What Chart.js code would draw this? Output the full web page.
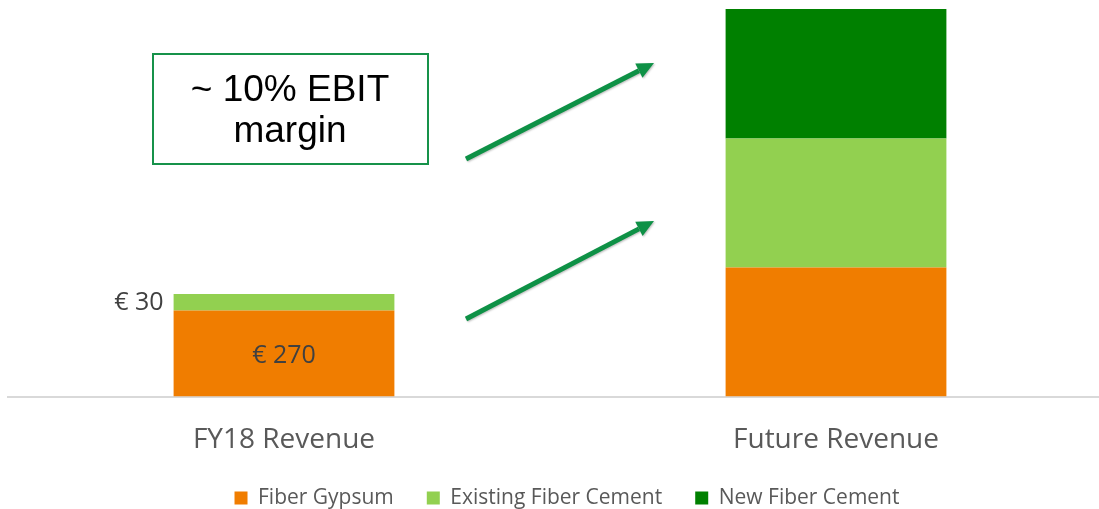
<!DOCTYPE html>
<html>
<head>
<meta charset="utf-8">
<script src="https://cdn.jsdelivr.net/npm/chart.js@4/dist/chart.umd.min.js"></script>
<style>
  html, body { margin: 0; padding: 0; background: #ffffff; overflow: hidden; width: 1099px; height: 509px; }
  #wrap { width: 1126px; height: 509px; }
</style>
</head>
<body>
<div id="wrap"><canvas id="c" width="1126" height="509"></canvas></div>
<script>
// ---- data ----
const categories = ['FY18 Revenue', 'Future Revenue'];
const fiberGypsum = [270, 405];
const existingFiberCement = [52, 405];
const newFiberCement = [0, 407];
const gypsumLabels = ['€ 270', ''];
const existingLabels = ['€ 30', ''];
const seriesNames = ['Fiber Gypsum', 'Existing Fiber Cement', 'New Fiber Cement'];
const annotationLines = ['~ 10% EBIT', 'margin'];

const COLORS = ['#F07D00', '#92D050', '#008000'];

const labelPlugin = {
  id: 'valueLabels',
  afterDatasetsDraw(chart) {
    const ctx = chart.ctx;
    ctx.save();
    ctx.font = '25px "Open Sans"';
    ctx.fillStyle = '#404040';
    ctx.textBaseline = 'middle';
    const m0 = chart.getDatasetMeta(0);
    m0.data.forEach((el, i) => {
      if (!gypsumLabels[i]) return;
      ctx.textAlign = 'center';
      ctx.fillText(gypsumLabels[i], el.x, (el.y + el.base) / 2 + 2);
    });
    const m1 = chart.getDatasetMeta(1);
    m1.data.forEach((el, i) => {
      if (!existingLabels[i]) return;
      ctx.textAlign = 'right';
      ctx.fillText(existingLabels[i], el.x - el.width / 2 - 10, (el.y + el.base) / 2 + 1);
    });
    ctx.restore();
  }
};

const annotationPlugin = {
  id: 'annotations',
  afterDraw(chart) {
    const ctx = chart.ctx;
    ctx.save();
    // text box
    ctx.strokeStyle = '#16924A';
    ctx.lineWidth = 2;
    ctx.strokeRect(153, 54, 275, 110);
    ctx.fillStyle = '#000000';
    ctx.font = '37px "Liberation Sans", Arial, sans-serif';
    ctx.textAlign = 'center';
    ctx.textBaseline = 'alphabetic';
    ctx.fillText(annotationLines[0], 290, 101);
    ctx.fillText(annotationLines[1], 290, 142);
    // arrows
    const arrows = [[466, 159, 654, 63], [466, 319, 654, 221]];
    ctx.strokeStyle = '#0E9146';
    ctx.fillStyle = '#0E9146';
    ctx.shadowColor = 'rgba(0,0,0,0.25)';
    ctx.shadowBlur = 2;
    ctx.shadowOffsetX = 1;
    ctx.shadowOffsetY = 1;
    arrows.forEach(([x1, y1, x2, y2]) => {
      const ang = Math.atan2(y2 - y1, x2 - x1);
      const headLen = 17, headHalf = 8;
      const bx = x2 - headLen * Math.cos(ang), by = y2 - headLen * Math.sin(ang);
      ctx.lineWidth = 5;
      ctx.beginPath();
      ctx.moveTo(x1, y1);
      ctx.lineTo(bx, by);
      ctx.stroke();
      ctx.beginPath();
      ctx.moveTo(x2, y2);
      ctx.lineTo(bx + headHalf * Math.sin(ang), by - headHalf * Math.cos(ang));
      ctx.lineTo(bx - headHalf * Math.sin(ang), by + headHalf * Math.cos(ang));
      ctx.closePath();
      ctx.fill();
    });
    ctx.restore();
  }
};

const datasets = [fiberGypsum, existingFiberCement, newFiberCement].map((d, i) => ({
  label: seriesNames[i],
  data: d,
  backgroundColor: COLORS[i],
  borderWidth: 0,
  barPercentage: 0.4,
  categoryPercentage: 1.0
}));

new Chart(document.getElementById('c'), {
  type: 'bar',
  data: { labels: categories, datasets },
  plugins: [labelPlugin, annotationPlugin],
  options: {
    responsive: false,
    devicePixelRatio: 1,
    animation: false,
    layout: { padding: { top: 9, left: 8, right: 0, bottom: 0 } },
    plugins: {
      tooltip: { enabled: false },
      legend: {
        position: 'bottom',
        maxHeight: 54.5,
        labels: {
          boxWidth: 13,
          boxHeight: 13,
          padding: 33,
          color: '#595959',
          font: { family: '"Open Sans"', size: 21 }
        }
      }
    },
    scales: {
      x: {
        stacked: true,
        grid: { display: true, drawOnChartArea: false, drawTicks: false, color: 'rgba(0,0,0,0)' },
        border: { display: true, color: '#D9D9D9', width: 2 },
        ticks: { color: '#595959', font: { family: '"Open Sans"', size: 28 }, padding: 26.5 },
        afterFit(axis) { axis.height = 58; }
      },
      y: {
        stacked: true,
        position: 'right',
        display: true,
        min: 0,
        max: 1217,
        ticks: { display: false },
        grid: { display: false },
        border: { display: false },
        afterFit(axis) { axis.width = 14; }
      }
    }
  }
});
</script>
</body>
</html>
